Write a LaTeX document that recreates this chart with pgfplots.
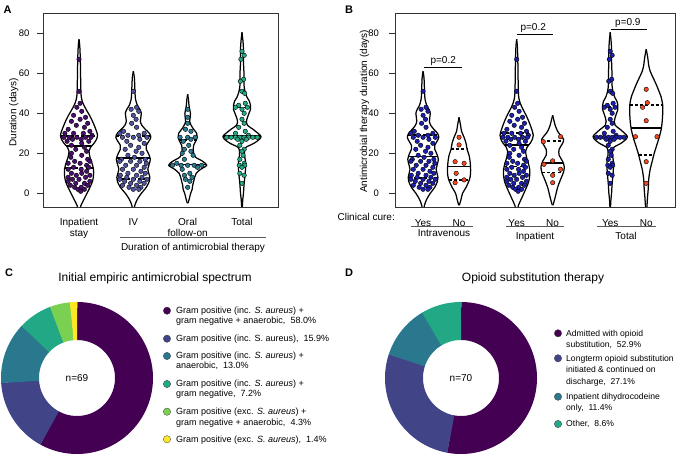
\documentclass[border=0pt]{standalone}
\usepackage{fontspec}
\setmainfont{Liberation Sans}
\usepackage{pgfplots}
\usepackage{pgfplotstable}
\pgfplotsset{compat=1.18}

\definecolor{vPur}{HTML}{440154}
\definecolor{vBlu}{HTML}{414487}
\definecolor{vTea}{HTML}{2A788E}
\definecolor{vGrn}{HTML}{22A884}
\definecolor{vLgr}{HTML}{7AD151}
\definecolor{vYel}{HTML}{FDE725}
\definecolor{dInp}{HTML}{4B0E6E}
\definecolor{dIV}{HTML}{5054A2}
\definecolor{dOral}{HTML}{2B7B93}
\definecolor{dTot}{HTML}{25AB86}
\definecolor{dBlue}{HTML}{1C1FB0}
\definecolor{dRed}{HTML}{F8471E}
\definecolor{axgray}{HTML}{333333}

\pgfplotsset{
  vline/.style={black, line width=1.25pt, smooth, tension=0.5, no marks},
  qsolid/.style={black, line width=1.6pt, no marks},
  qdash/.style={black, line width=1.6pt, dash pattern=on 3pt off 2.2pt, no marks},
  panel/.style={
    scale only axis, height=194pt, anchor=south west,
    ymin=-6.85, ymax=90.15,
    axis line style={draw=axgray, line width=0.7pt},
    tick align=outside, major tick length=6pt,
    tick style={draw=axgray, line width=0.7pt},
    xtick style={draw=none},
    ytick={0,20,40,60,80}, ytick pos=left, xtick pos=bottom,
    xticklabel style={align=center, anchor=base, yshift=-14pt, font=\fontsize{10}{11}\selectfont},
    /pgf/number format/assume math mode=true,
  },
}

% violin half-width profiles (y in days, w in image px)
\pgfplotstableread{
y w
-9 0.5
-6 2
-3 5
0 8
3 11
6 13.5
9 14.5
12 14.5
15 13
18 11
21 10
23 11.5
25 15
27 17.5
29 18.5
31 17.5
33 16
36 13.5
39 10.5
42 7
45 4
48 2.3
52 1.8
58 1.6
64 1.4
70 1.1
74 0.7
77 0
}\vInp
\pgfplotstableread{
y w
-9 0.5
-6 1.5
-3 4
0 8
3 13
6 16
8 16.5
10 15.5
12 14.5
14 15.5
17 17
20 15
22 13
24 13
26 15.5
28 17.5
30 16
32 12
34 8.5
36 7
38 7.5
40 8
42 6.5
44 4
47 2.2
50 1.7
54 1.4
58 1
61 0
}\vIV
\pgfplotstableread{
y w
-5 0.3
-3 1.5
0 3
2 4.5
4 5
6 6
8 7
10 8.5
12 13
14 19
16 15
18 8
20 6
22 5.5
24 6
26 8
28 9.5
30 9
32 6
34 3.5
36 2
38 2.5
40 2.8
42 2
44 1.3
47 0.8
49.5 0
}\vOral
\pgfplotstableread{
y w
-7 0.3
-3 0.8
0 1.5
4 2
8 2.8
12 3.5
16 3.5
19 2.5
21 2.5
23 4
25 12
27 17.5
28.5 19
30 16
32 11
34 5.5
36 4.5
38 5.5
40 7
42 8.5
44 8.5
46 7.5
48 5
50 3.5
53 2.2
56 2
60 2
64 1.6
68 1.5
72 1.5
76 1
80.5 0
}\vTot
\pgfplotstableread{
y w
-6 0.3
-3 2
0 3.5
3 7
7 10.5
10 11.5
13 11.5
16 11
19 10
22 8
25 7
28 5
31 2.5
34 1.5
38 0
}\vIVno
\pgfplotstableread{
y w
-6 0.3
-3 2
0 3.5
3 5
7 8
10 10.5
13 11.7
16 10
19 6.5
22 6.5
25 10
27 11
29 8
31 5
34 2.5
36 1.5
39 0
}\vInpno
\pgfplotstableread{
y w
-9 0.3
-6 0.8
-2 1.3
2 2
7 2.5
12 4
16 6
20 8
24 10.5
28 13
32 15
36 16
40 16.5
44 16.5
48 15
52 12
55 9.5
58 6.7
61 4
64 2.5
68 1.5
72 0
}\vTotno

% individual patients (y in days, dx horizontal jitter)
\pgfplotstableread{
y dx
67 0
51 0
45 0.02
43 -0.04
41 0.05
39 -0.1
38 0.12
37 0.02
36 -0.14
35 0.16
34 -0.05
33 0.1
32 -0.2
31 0.2
30 -0.26
30 -0.1
30 0.08
29 0.24
28 -0.28
28 -0.18
28 -0.04
28 0.12
28 0.22
27 -0.12
27 0.04
26 -0.22
26 0.18
25 0.05
24 -0.14
23 0.1
22 -0.06
21 0.14
20 -0.14
19 0.05
18 -0.15
17 0.16
16 -0.08
16 0.2
15 0.02
15 -0.2
14 0.14
13 -0.1
13 0.18
12 0.04
12 -0.2
11 0.14
10 -0.14
10 0.05
9 0.2
9 -0.05
8 -0.2
8 0.12
7 0
7 -0.12
6 0.2
6 -0.2
5 0.1
5 -0.06
4 0.16
4 -0.16
3 0.04
3 -0.08
2 -0.02
2 0.1
1 0.03
}\pInp
\pgfplotstableread{
y dx
51 0
43 0.06
42 -0.04
41 0.1
39 0
37 0.05
35 -0.03
33 0.06
31 -0.18
30 -0.25
30 0.2
29 0.1
29 -0.1
28 -0.2
28 0
28 0.25
27 0.12
26 -0.12
25 0.2
24 -0.05
23 0.1
22 -0.15
21 0.05
20 0.16
19 -0.1
18 0.02
17 -0.22
17 0.22
16 -0.05
16 0.12
16 -0.25
15 0.24
14 -0.14
14 0.06
13 0.2
12 -0.2
12 0
11 0.14
10 -0.1
10 0.22
9 -0.24
9 0.06
8 -0.12
8 0.16
7 -0.25
7 0
7 0.25
6 -0.16
6 0.12
5 -0.05
5 0.2
4 -0.2
4 0.06
3 0.14
3 -0.08
2 0
2 0.1
}\pIV
\pgfplotstableread{
y dx
42 0
38 0
35 0
32 -0.04
31 0.06
28 -0.14
28 0
28 0.14
27 0.06
26 -0.08
24 0.02
22 -0.06
21 0.06
20 -0.1
19 0.1
17 -0.06
15 -0.2
14 -0.28
14 -0.12
14 0
14 0.12
14 0.26
13 0.18
12 -0.1
10 0.04
9 -0.06
8 0.08
7 -0.04
6 0.04
3 0
}\pOral
\pgfplotstableread{
y dx
71 0
69 0.04
67 -0.02
57 0.03
56 -0.03
51 0
50 0.05
45 0.06
44 -0.06
43 0.1
43 -0.12
42 0
40 0.04
37 0
35 0.04
33 -0.06
31 0.06
30 -0.12
29 0.12
28 -0.28
28 -0.2
28 -0.12
28 -0.04
28 0.04
28 0.12
28 0.2
28 0.28
27 -0.08
27 0.08
26 0
24 -0.04
22 0.04
21 0
19 0.02
17 -0.04
15 0.04
14 -0.05
14 0.05
13 0
10 -0.04
9 0.04
5 0
}\pTot
\pgfplotstableread{
y dx
28 0
24.2 0
15.8 -0.11
15 0.14
10 -0.08
5.3 -0.11
6.7 0.14
}\pIVno
\pgfplotstableread{
y dx
28.3 0.22
25.8 -0.26
16.2 0
14.5 -0.24
12 0.22
9 0
5.3 0
}\pInpno
\pgfplotstableread{
y dx
52 0
45.3 0.03
43 -0.1
36.3 0
28.3 -0.3
28.3 0.3
15.8 0
5 0
}\pTotno

\newcommand{\violin}[3]{%
  \addplot[vline] table[x expr={#2+\thisrow{w}/#3}, y=y] {#1};
  \addplot[vline] table[x expr={#2-\thisrow{w}/#3}, y=y] {#1};}
\newcommand{\pts}[4]{%
  \addplot[only marks, mark=*, mark size=2.25pt, mark options={fill=#4, draw=none}]
    table[x expr={#2+#3*\thisrow{dx}}, y=y] {#1};}
\newcommand{\qline}[5]{%
  \pgfmathsetmacro\qa{#1-#3/#4}%
  \pgfmathsetmacro\qb{#1+#3/#4}%
  \edef\qtmp{\noexpand\addplot[#5] coordinates {(\qa,#2) (\qb,#2)};}%
  \qtmp}
% donut slice: cumulative start %, cumulative end %, colour, overlap
\newcommand{\ring}[4]{%
  \pgfmathsetmacro\ra{90-3.6*#2-#4}%
  \pgfmathsetmacro\rb{90-3.6*#1}%
  \edef\rtmp{\noexpand\addplot[draw=#3, line width=38pt, domain=\ra:\rb, samples=100, no marks] ({57*cos(x)},{57*sin(x)});}%
  \rtmp}
\newcommand\legfont{\fontsize{9}{10}\selectfont}
\newcommand\legfontD{\fontsize{8.6}{10}\selectfont}
\newcommand\axfont{\fontsize{10}{12}\selectfont}

\begin{document}
\begin{tikzpicture}
\path[use as bounding box] (0pt,0pt) rectangle (677pt,454pt);

% ---------------- Panel A ----------------
\begin{axis}[panel, width=235pt, at={(43pt,247pt)},
  xmin=-0.663, xmax=3.663,
  xtick={0,1,2,3},
  xticklabels={{Inpatient\\stay},{IV\\\mbox{}},{Oral\\follow-on},{Total\\\mbox{}}},
  xticklabel style={yshift=-10pt},
  yticklabel style={xshift=-4pt, font=\fontsize{9.5}{11}\selectfont},
]
\violin{\vInp}{0}{54.33}
\violin{\vIV}{1}{54.33}
\violin{\vOral}{2}{54.33}
\violin{\vTot}{3}{54.33}
\pts{\pInp}{0}{1}{dInp}
\pts{\pIV}{1}{1}{dIV}
\pts{\pOral}{2}{1}{dOral}
\pts{\pTot}{3}{1}{dTot}
\qline{0}{28.7}{18.4}{54.33}{qdash}
\qline{0}{23.7}{12.7}{54.33}{qsolid}
\qline{0}{12.5}{14.3}{54.33}{qdash}
\qline{1}{28.5}{17.1}{54.33}{qdash}
\qline{1}{17.5}{16.7}{54.33}{qsolid}
\qline{1}{7.2}{16.3}{54.33}{qdash}
\qline{2}{26.7}{9}{54.33}{qdash}
\qline{2}{14.3}{18.4}{54.33}{qsolid}
\qline{3}{42.8}{8.5}{54.33}{qdash}
\qline{3}{28.5}{19}{54.33}{qsolid}
\end{axis}

% ---------------- Panel B ----------------
\begin{axis}[panel, width=280pt, at={(395pt,247pt)},
  xmin=-0.78, xmax=7.0,
  xtick={0,1,2.6,3.6,5.2,6.2},
  xticklabels={Yes,No,Yes,No,Yes,No},
  yticklabel style={xshift=-6.5pt, font=\fontsize{9.5}{11}\selectfont},
]
\violin{\vIV}{0}{40}
\violin{\vIVno}{1}{36}
\violin{\vInp}{2.6}{40}
\violin{\vInpno}{3.6}{36}
\violin{\vTot}{5.2}{40}
\violin{\vTotno}{6.2}{36}
\pts{\pIV}{0}{1.358}{dBlue}
\pts{\pIVno}{1}{1}{dRed}
\pts{\pInp}{2.6}{1.358}{dBlue}
\pts{\pInpno}{3.6}{1}{dRed}
\pts{\pTot}{5.2}{1.358}{dBlue}
\pts{\pTotno}{6.2}{1}{dRed}
\qline{0}{29.2}{17}{40}{qdash}
\qline{0}{18.3}{16.5}{40}{qsolid}
\qline{0}{7.5}{16.3}{40}{qdash}
\qline{1}{22.2}{8}{36}{qdash}
\qline{1}{13.3}{11.5}{36}{qsolid}
\qline{1}{6.7}{10}{36}{qdash}
\qline{2.6}{30}{18}{40}{qdash}
\qline{2.6}{24.2}{13.5}{40}{qsolid}
\qline{2.6}{13.3}{14}{40}{qdash}
\qline{3.6}{26.2}{10.5}{36}{qdash}
\qline{3.6}{15}{10.8}{36}{qsolid}
\qline{3.6}{10.3}{10.7}{36}{qdash}
\qline{5.2}{43}{8.5}{40}{qdash}
\qline{5.2}{28.3}{19}{40}{qsolid}
\qline{6.2}{44.2}{16.5}{36}{qdash}
\qline{6.2}{32.5}{15}{36}{qsolid}
\qline{6.2}{19.2}{7.5}{36}{qdash}
% p-value brackets
\addplot[black, line width=0.9pt, no marks] coordinates {(0.03,62.8) (1.07,62.8)};
\addplot[black, line width=0.9pt, no marks] coordinates {(2.6,79.5) (3.6,79.5)};
\addplot[black, line width=0.9pt, no marks] coordinates {(5.22,81.7) (6.22,81.7)};
\node[anchor=base, inner sep=0pt, font=\axfont] at (axis cs:0.56,64.9) {p=0.2};
\node[anchor=base, inner sep=0pt, font=\axfont] at (axis cs:3.06,81.6) {p=0.2};
\node[anchor=base, inner sep=0pt, font=\axfont] at (axis cs:5.69,83.8) {p=0.9};
\end{axis}

% ---------------- Panel C ----------------
\begin{axis}[at={(0pt,0pt)}, anchor=south west, x=1pt, y=1pt,
  xmin=-77, xmax=261, ymin=-76, ymax=118, hide axis, clip=false]
\ring{0}{57.97}{vPur}{0.4}
\ring{57.97}{73.91}{vBlu}{0.4}
\ring{73.91}{86.96}{vTea}{0.4}
\ring{86.96}{94.20}{vGrn}{0.4}
\ring{94.20}{98.55}{vLgr}{0.4}
\ring{98.55}{100}{vYel}{0}
\node[font=\axfont] at (axis cs:0,0) {n=69};
\addplot[only marks, mark=*, mark size=3.7pt, mark options={fill=vPur, draw=black!75, line width=0.3pt}] coordinates {(90,67.3)};
\addplot[only marks, mark=*, mark size=3.7pt, mark options={fill=vBlu, draw=black!75, line width=0.3pt}] coordinates {(90,39.3)};
\addplot[only marks, mark=*, mark size=3.7pt, mark options={fill=vTea, draw=black!75, line width=0.3pt}] coordinates {(90,22)};
\addplot[only marks, mark=*, mark size=3.7pt, mark options={fill=vGrn, draw=black!75, line width=0.3pt}] coordinates {(90,-6)};
\addplot[only marks, mark=*, mark size=3.7pt, mark options={fill=vLgr, draw=black!75, line width=0.3pt}] coordinates {(90,-33.7)};
\addplot[only marks, mark=*, mark size=3.7pt, mark options={fill=vYel, draw=black!75, line width=0.3pt}] coordinates {(90,-61.3)};
\begin{scope}[every node/.style={anchor=base west, inner sep=0pt, font=\legfont}]
\node at (axis cs:99,64.3) {Gram positive (inc. \textit{S. aureus}) +};
\node at (axis cs:99,54.3) {gram negative + anaerobic,~~58.0\%};
\node at (axis cs:99,36.3) {Gram positive (inc. S. aureus),~~15.9\%};
\node at (axis cs:99,19) {Gram positive (inc. \textit{S. aureus}) +};
\node at (axis cs:99,9) {anaerobic,~~13.0\%};
\node at (axis cs:99,-9) {Gram positive (inc. \textit{S. aureus}) +};
\node at (axis cs:99,-19) {gram negative,~~7.2\%};
\node at (axis cs:99,-36.7) {Gram positive (exc. \textit{S. aureus}) +};
\node at (axis cs:99,-47.3) {gram negative + anaerobic,~~4.3\%};
\node at (axis cs:99,-64.3) {Gram positive (exc. \textit{S. aureus}),~~1.4\%};
\end{scope}
\end{axis}

% ---------------- Panel D ----------------
\begin{axis}[at={(340pt,0pt)}, anchor=south west, x=1pt, y=1pt,
  xmin=-121, xmax=216, ymin=-76, ymax=118, hide axis, clip=false]
\ring{0}{52.86}{vPur}{0.4}
\ring{52.86}{80.00}{vBlu}{0.4}
\ring{80.00}{91.43}{vTea}{0.4}
\ring{91.43}{100}{vGrn}{0}
\node[font=\axfont] at (axis cs:0,0) {n=70};
\addplot[only marks, mark=*, mark size=3.7pt, mark options={fill=vPur, draw=black!75, line width=0.3pt}] coordinates {(97,44.7)};
\addplot[only marks, mark=*, mark size=3.7pt, mark options={fill=vBlu, draw=black!75, line width=0.3pt}] coordinates {(97,19.7)};
\addplot[only marks, mark=*, mark size=3.7pt, mark options={fill=vTea, draw=black!75, line width=0.3pt}] coordinates {(97,-18.7)};
\addplot[only marks, mark=*, mark size=3.7pt, mark options={fill=vGrn, draw=black!75, line width=0.3pt}] coordinates {(97,-46)};
\begin{scope}[every node/.style={anchor=base west, inner sep=0pt, font=\legfontD}]
\node at (axis cs:105,41.7) {Admitted with opioid};
\node at (axis cs:105,30) {substitution,~~52.9\%};
\node at (axis cs:105,16.7) {Longterm opioid substitution};
\node at (axis cs:105,5) {initiated \& continued on};
\node at (axis cs:105,-6.7) {discharge,~~27.1\%};
\node at (axis cs:105,-21.7) {Inpatient dihydrocodeine};
\node at (axis cs:105,-32.7) {only,~~11.4\%};
\node at (axis cs:105,-49) {Other,~~8.6\%};
\end{scope}
\end{axis}

% ---------------- annotations ----------------
\node[anchor=base west, inner sep=0pt, font=\bfseries\fontsize{11}{12}\selectfont] at (3.3pt,440.7pt) {A};
\node[anchor=base west, inner sep=0pt, font=\bfseries\fontsize{11}{12}\selectfont] at (345pt,440.7pt) {B};
\node[anchor=base west, inner sep=0pt, font=\bfseries\fontsize{11}{12}\selectfont] at (5pt,177.3pt) {C};
\node[anchor=base west, inner sep=0pt, font=\bfseries\fontsize{11}{12}\selectfont] at (345pt,177.3pt) {D};
\node[rotate=90, font=\axfont, inner sep=0pt] at (13.8pt,341.5pt) {Duration (days)};
\node[rotate=90, font=\axfont, inner sep=0pt] at (364.5pt,342.5pt) {Antimicrobial therapy duration (days)};
\draw[black!65, line width=0.8pt] (120pt,217pt) -- (266pt,217pt);
\node[anchor=base, inner sep=0pt, font=\axfont] at (193pt,203.5pt) {Duration of antimicrobial therapy};
\node[anchor=base east, inner sep=0pt, font=\axfont] at (395pt,233pt) {Clinical cure:};
\draw[black!65, line width=0.8pt] (411pt,228pt) -- (473pt,228pt);
\draw[black!65, line width=0.8pt] (506pt,228pt) -- (564pt,228pt);
\draw[black!65, line width=0.8pt] (597pt,228pt) -- (656pt,228pt);
\node[anchor=base, inner sep=0pt, font=\axfont] at (444pt,217pt) {Intravenous};
\node[anchor=base, inner sep=0pt, font=\axfont] at (535pt,214.5pt) {Inpatient};
\node[anchor=base, inner sep=0pt, font=\axfont] at (626pt,214.5pt) {Total};
\node[anchor=base, inner sep=0pt, font=\fontsize{12}{14}\selectfont] at (155pt,172pt) {Initial empiric antimicrobial spectrum};
\node[anchor=base, inner sep=0pt, font=\fontsize{12}{14}\selectfont] at (533pt,172pt) {Opioid substitution therapy};
\end{tikzpicture}
\end{document}
